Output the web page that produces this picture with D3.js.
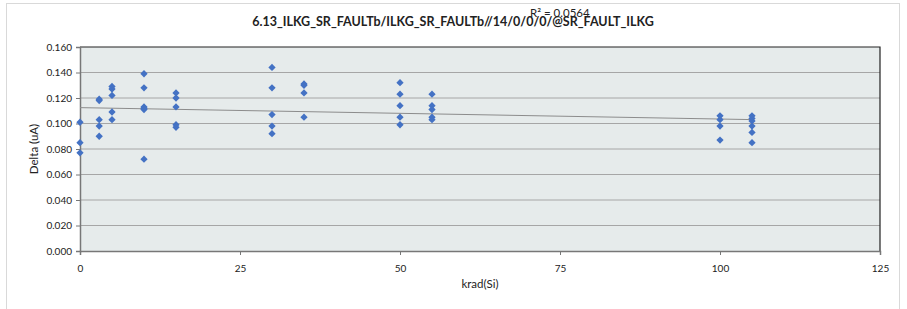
<!DOCTYPE html>
<html>
<head>
<meta charset="utf-8">
<script src="https://cdn.jsdelivr.net/npm/d3@7"></script>
<style>
  body { margin: 0; background: #fff; }
  text { font-family: Lato, "Noto Sans", sans-serif; fill: #222; }
</style>
</head>
<body>
<svg id="chart" width="907" height="309"></svg>
<script>
// dose points (krad) and measured deltas
const doses = [0, 3, 5, 10, 15, 30, 35, 50, 55, 100, 105]
const deltas = [
  [0.101, 0.085, 0.077],
  [0.119, 0.118, 0.103, 0.098, 0.090],
  [0.129, 0.127, 0.122, 0.109, 0.103],
  [0.139, 0.128, 0.113, 0.112, 0.111, 0.072],
  [0.124, 0.120, 0.113, 0.099, 0.097],
  [0.144, 0.128, 0.107, 0.098, 0.092],
  [0.131, 0.130, 0.124, 0.105],
  [0.132, 0.123, 0.114, 0.105, 0.099],
  [0.123, 0.114, 0.111, 0.105, 0.103],
  [0.106, 0.103, 0.098, 0.087],
  [0.106, 0.104, 0.102, 0.098, 0.093, 0.085]
]
const xTicks = [0, 25, 50, 75, 100, 125]
const yTicks = [0, 0.02, 0.04, 0.06, 0.08, 0.10, 0.12, 0.14, 0.16]
const title = "6.13_ILKG_SR_FAULTb/ILKG_SR_FAULTb//14/0/0/0/@SR_FAULT_ILKG"
const r2Label = "R² = 0.0564"

const svg = d3.select("#chart")
const m = { left: 80, right: 27, top: 47, bottom: 58 }
const W = 907, H = 309

const pts = []
doses.forEach((d, i) => deltas[i].forEach(v => pts.push({ x: d, y: v })))

const x = d3.scaleLinear().domain([0, 125]).range([m.left, W - m.right])
const y = d3.scaleLinear().domain([0, 0.16]).range([H - m.bottom, m.top])

// chart area frame
svg.append("rect")
  .attr("x", 6.5).attr("y", 3.5).attr("width", 893).attr("height", 320)
  .attr("fill", "#fff").attr("stroke", "#d9d9d9")

svg.append("rect")
  .attr("x", m.left).attr("y", m.top)
  .attr("width", x(125) - m.left).attr("height", y(0) - m.top)
  .attr("fill", "#e6ebeb")

// gridlines
svg.append("g").selectAll("line")
  .data(yTicks.slice(1, -1))
  .join("line")
  .attr("x1", m.left).attr("x2", x(125))
  .attr("y1", d => y(d)).attr("y2", d => y(d))
  .attr("stroke", "#a6a6a6").attr("stroke-width", 1)

// top + right border of plot area
svg.append("path")
  .attr("d", `M${m.left},${m.top}H${x(125)}V${y(0)}`)
  .attr("fill", "none").attr("stroke", "#222").attr("stroke-width", 1.2)

// axes
const yAxis = svg.append("g")
  .attr("transform", `translate(${m.left},0)`)
  .call(d3.axisLeft(y).tickValues(yTicks).tickFormat(d3.format(".3f")).tickSize(4).tickPadding(4))
const xAxis = svg.append("g")
  .attr("transform", `translate(0,${y(0)})`)
  .call(d3.axisBottom(x).tickValues(xTicks).tickSize(4).tickPadding(10))
;[yAxis, xAxis].forEach(a => {
  a.select(".domain").attr("stroke", "#777").attr("stroke-width", 1.5)
  a.selectAll(".tick line").attr("stroke", "#777")
  a.selectAll(".tick text").attr("font-size", 10).attr("fill", "#222")
    .attr("font-family", "Lato, 'Noto Sans', sans-serif")
})

// linear trendline over the data range
const mx = d3.mean(pts, p => p.x), my = d3.mean(pts, p => p.y)
const slope = d3.sum(pts, p => (p.x - mx) * (p.y - my)) / d3.sum(pts, p => (p.x - mx) ** 2)
const icpt = my - slope * mx
const [x0, x1] = d3.extent(pts, p => p.x)
svg.append("line")
  .attr("x1", x(x0)).attr("y1", y(icpt + slope * x0))
  .attr("x2", x(x1)).attr("y2", y(icpt + slope * x1))
  .attr("stroke", "#8c8c8c").attr("stroke-width", 1)

// markers
svg.append("g").selectAll("path")
  .data(pts)
  .join("path")
  .attr("d", d3.symbol(d3.symbolDiamond2, 34))
  .attr("transform", d => `translate(${x(d.x)},${y(d.y)})`)
  .attr("fill", "#4472c4")

// texts
svg.append("text")
  .attr("x", 453).attr("y", 26).attr("text-anchor", "middle")
  .attr("font-size", 12.5).attr("font-weight", "bold")
  .text(title)
svg.append("text")
  .attr("x", 530).attr("y", 17)
  .attr("font-size", 11.5)
  .text(r2Label)
svg.append("text")
  .attr("x", 480).attr("y", 288).attr("text-anchor", "middle")
  .attr("font-size", 11.5)
  .text("krad(Si)")
svg.append("text")
  .attr("transform", `translate(38,${(m.top + y(0)) / 2}) rotate(-90)`)
  .attr("text-anchor", "middle")
  .attr("font-size", 11.5)
  .text("Delta (uA)")
</script>
</body>
</html>
